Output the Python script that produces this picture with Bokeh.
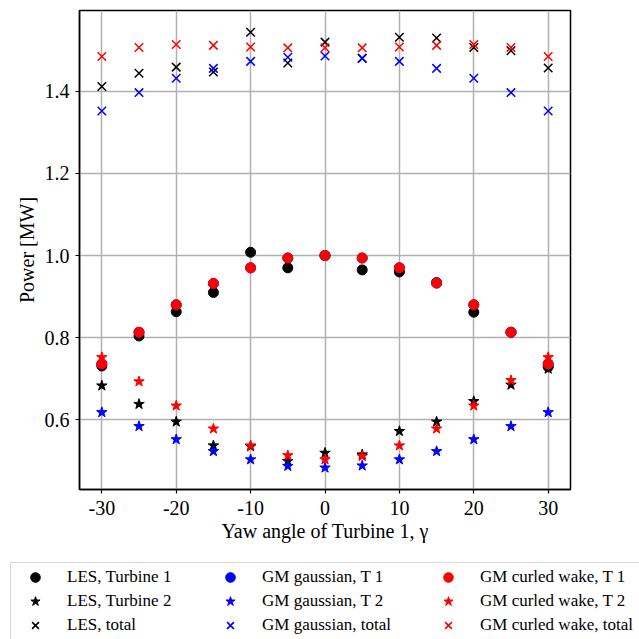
from bokeh.plotting import figure
from bokeh.models import Legend, LegendItem, FixedTicker, BoxAnnotation
from bokeh.layouts import column
from bokeh.embed import file_html
from bokeh.resources import INLINE

yaw = [-30, -25, -20, -15, -10, -5, 0, 5, 10, 15, 20, 25, 30]

les_t1 = [0.731, 0.804, 0.863, 0.910, 1.008, 0.970, 1.000, 0.965, 0.960, 0.934, 0.862, 0.813, 0.729]
les_t2 = [0.683, 0.638, 0.595, 0.537, 0.535, 0.499, 0.519, 0.515, 0.572, 0.595, 0.645, 0.685, 0.724]
les_tot = [1.412, 1.444, 1.459, 1.447, 1.544, 1.469, 1.520, 1.480, 1.532, 1.530, 1.507, 1.499, 1.457]

gau_t1 = [0.736, 0.813, 0.880, 0.932, 0.970, 0.994, 1.000, 0.994, 0.970, 0.933, 0.880, 0.813, 0.736]
gau_t2 = [0.618, 0.584, 0.552, 0.523, 0.503, 0.487, 0.483, 0.488, 0.503, 0.523, 0.552, 0.584, 0.618]
gau_tot = [1.352, 1.397, 1.432, 1.456, 1.473, 1.483, 1.486, 1.481, 1.473, 1.456, 1.432, 1.397, 1.352]

cur_t1 = [0.736, 0.813, 0.880, 0.932, 0.970, 0.994, 1.000, 0.994, 0.970, 0.933, 0.880, 0.813, 0.736]
cur_t2 = [0.752, 0.693, 0.634, 0.578, 0.537, 0.513, 0.503, 0.511, 0.537, 0.578, 0.634, 0.696, 0.752]
cur_tot = [1.485, 1.507, 1.514, 1.512, 1.508, 1.506, 1.506, 1.506, 1.508, 1.512, 1.514, 1.507, 1.485]

x_ticks = [-30, -20, -10, 0, 10, 20, 30]
y_ticks = [0.6, 0.8, 1.0, 1.2, 1.4]

FONT = "Liberation Serif"

p = figure(width=639, height=555, output_backend="svg", toolbar_location=None,
           x_range=(-33, 33), y_range=(0.430, 1.597),
           min_border_left=79, min_border_right=69, min_border_top=10, min_border_bottom=66,
           background_fill_color="white", border_fill_color="white")
p.frame_align = False

p.outline_line_color = "black"
p.outline_line_width = 1.5
p.outline_line_alpha = 1.0

for ax in (p.xaxis[0], p.yaxis[0]):
    ax.axis_line_color = "black"
    ax.axis_line_width = 1.5
    ax.major_tick_line_color = "black"
    ax.major_tick_line_width = 1.2
    ax.major_tick_in = 0
    ax.major_tick_out = 4
    ax.minor_tick_line_color = None
    ax.major_label_text_font = FONT
    ax.major_label_text_font_size = "20px"
    ax.major_label_text_color = "black"
    ax.axis_label_text_font = FONT
    ax.axis_label_text_font_size = "20px"
    ax.axis_label_text_font_style = "normal"
    ax.axis_label_text_color = "black"

p.xaxis.ticker = FixedTicker(ticks=x_ticks)
p.yaxis.ticker = FixedTicker(ticks=y_ticks)
p.xaxis.major_label_overrides = {t: ("-" + str(-t) if t < 0 else str(t)) for t in x_ticks}
p.yaxis.major_label_overrides = {t: f"{t:.1f}" for t in y_ticks}
p.xaxis.axis_label = "Yaw angle of Turbine 1, γ"
p.yaxis.axis_label = "Power [MW]"
p.xaxis.major_label_standoff = 7
p.yaxis.major_label_standoff = 6
p.xaxis.axis_label_standoff = 2
p.yaxis.axis_label_standoff = 4

p.grid.grid_line_color = "#b0b0b0"
p.grid.grid_line_width = 1.5

series = [
    ("LES, Turbine 1", les_t1, "black", "circle"),
    ("LES, Turbine 2", les_t2, "black", "star"),
    ("LES, total", les_tot, "black", "x"),
    ("GM gaussian, T 1", gau_t1, "blue", "circle"),
    ("GM gaussian, T 2", gau_t2, "blue", "star"),
    ("GM gaussian, total", gau_tot, "blue", "x"),
    ("GM curled wake, T 1", cur_t1, "red", "circle"),
    ("GM curled wake, T 2", cur_t2, "red", "star"),
    ("GM curled wake, total", cur_tot, "red", "x"),
]
sizes = {"circle": 10, "star": 11, "x": 12}
lwidths = {"circle": 1, "star": 1, "x": 1.5}

for label, vals, color, marker in series:
    p.scatter(yaw, vals, marker=marker, size=sizes[marker], color=color,
              line_color=color, fill_color=color, line_width=lwidths[marker])

# legend strip below the chart (its ranges keep the series out of view)
lf = figure(width=639, height=84, output_backend="svg", toolbar_location=None,
            x_range=(1000, 1639), y_range=(1000, 1084),
            x_axis_location=None, y_axis_location=None,
            min_border=0, min_border_left=0, min_border_right=0,
            min_border_top=0, min_border_bottom=0,
            background_fill_color="white", border_fill_color="white")
lf.frame_align = False
lf.outline_line_color = None
lf.xgrid.visible = False
lf.ygrid.visible = False

box = BoxAnnotation(left=1010, right=1700, bottom=990, top=1077,
                    fill_color="white", fill_alpha=1.0,
                    line_color="#d6d6d6", line_width=1, line_alpha=1.0)
lf.add_layout(box)

legend_lw = {"circle": 1, "star": 1, "x": 1.6}
col_left = [20, 215, 433]
for c in range(3):
    items = []
    for label, vals, color, marker in series[3 * c:3 * c + 3]:
        r = lf.scatter(yaw, vals, marker=marker, color=color, line_color=color,
                       fill_color=color, line_width=legend_lw[marker])
        items.append(LegendItem(label=label, renderers=[r]))
    lg = Legend(items=items, location=(col_left[c], 2),
                label_text_font=FONT, label_text_font_size="17px",
                label_text_color="black",
                border_line_color=None, background_fill_alpha=0.0,
                glyph_width=30, glyph_height=24, label_height=24,
                label_standoff=17, spacing=0, padding=0, margin=0)
    lf.add_layout(lg, "center")

layout = column(p, lf, spacing=0)
open("out.html", "w").write(file_html(layout, INLINE))
